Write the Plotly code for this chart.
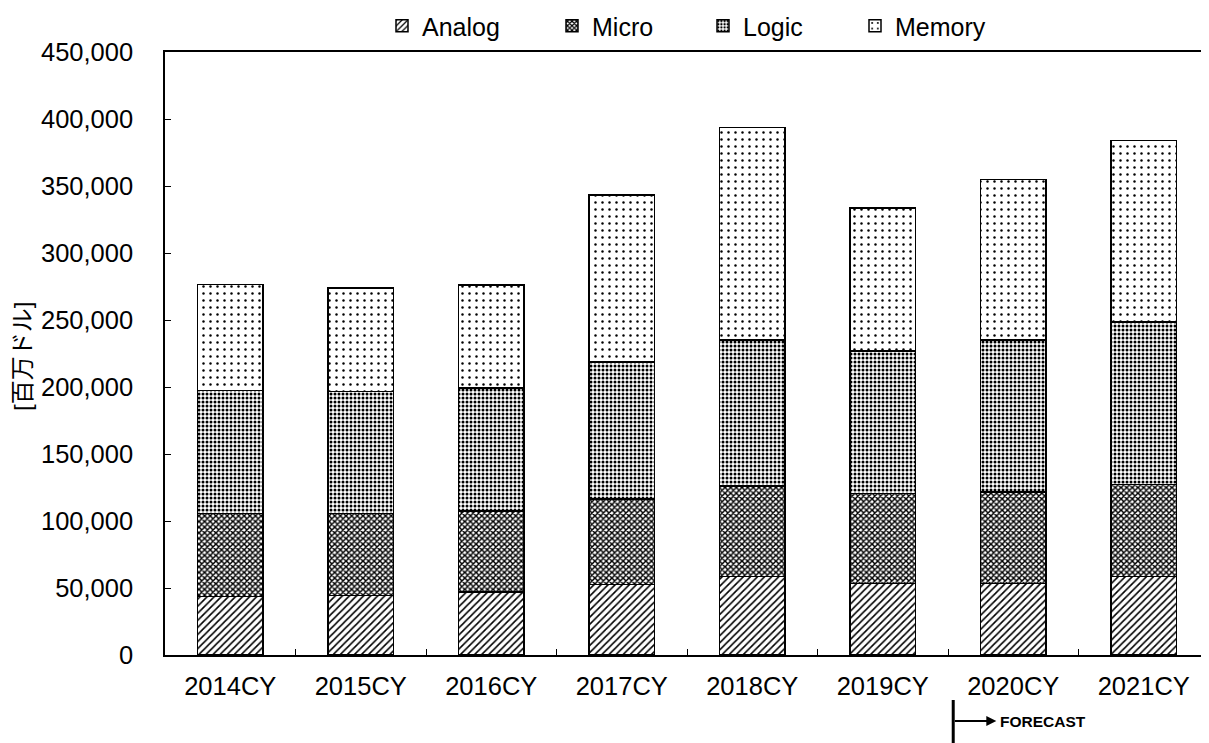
import plotly.graph_objects as go

categories = ["2014CY", "2015CY", "2016CY", "2017CY", "2018CY", "2019CY", "2020CY", "2021CY"]
analog = [43600, 44300, 47100, 52800, 58500, 53400, 53400, 58500]
micro = [62000, 61300, 60500, 63700, 67500, 67000, 68200, 68800]
logic = [91700, 91200, 91700, 102300, 109000, 106400, 113400, 121200]
memory = [79200, 77000, 76700, 124500, 158600, 106700, 119900, 135500]
series_names = ["Analog", "Micro", "Logic", "Memory"]

patterns = [
    dict(shape="/", size=5, solidity=0.32),
    dict(shape="x", size=4, solidity=0.6),
    dict(shape=".", size=4, solidity=0.45),
    dict(shape=".", size=7, solidity=0.1),
]

FONT = "Liberation Sans, Arial, Noto Sans CJK JP, sans-serif"
W, H = 1201, 735
legend_text_x = [422, 592, 743, 895]  # page px where legend text starts

fig = go.Figure()
for i, (name, vals) in enumerate(zip(series_names, [analog, micro, logic, memory])):
    fig.add_trace(go.Bar(
        name=name, x=categories, y=vals, width=0.5,
        legend="legend" if i == 0 else f"legend{i+1}",
        marker=dict(color="white",
                    line=dict(color="black", width=1.5),
                    pattern=dict(fgcolor="black", bgcolor="white",
                                 fillmode="replace", **patterns[i])),
    ))

legends = {}
for i, tx in enumerate(legend_text_x):
    key = "legend" if i == 0 else f"legend{i+1}"
    legends[key] = dict(xref="container", yref="container",
                        x=(tx - 8 - 40) / W, xanchor="left",
                        y=1 - (26 - 8) / H, yanchor="middle",
                        orientation="h", font=dict(size=25, color="black"),
                        bgcolor="rgba(0,0,0,0)", itemwidth=30)

fig.update_layout(
    barmode="stack",
    width=W, height=H,
    margin=dict(l=157, r=0, t=44, b=88, autoexpand=False),
    paper_bgcolor="white", plot_bgcolor="white",
    font=dict(family=FONT, size=25, color="black"),
    showlegend=True,
    xaxis=dict(showline=True, linecolor="black", linewidth=1.5, mirror=True,
               ticks="inside", tickson="boundaries", ticklen=6, tickcolor="black",
               tickfont=dict(size=25.5), ticklabelstandoff=8, showgrid=False,
               automargin=False),
    yaxis=dict(range=[0, 450000], dtick=50000, tickformat=",d",
               showline=True, linecolor="black", linewidth=1.5,
               ticks="inside", ticklen=6, tickcolor="black",
               tickfont=dict(size=25.5), ticklabelstandoff=25,
               showgrid=False, zeroline=False, automargin=False),
    **legends,
)

# y-axis title
fig.add_annotation(xref="paper", yref="paper", x=(14 - 157) / 1044, y=(647 - 349) / 603,
                   text="[百万ドル]", textangle=-90, showarrow=False,
                   xanchor="center", yanchor="middle",
                   font=dict(size=24, color="black", family=FONT))

# FORECAST marker
fig.add_shape(type="line", xref="x", yref="paper", x0=5.54, x1=5.54,
              y0=(647 - 692) / 603, y1=(647 - 740) / 603,
              line=dict(color="black", width=3))
fig.add_annotation(xref="x", yref="paper", x=5.87, y=(647 - 713) / 603, ax=-43, ay=0,
                   axref="pixel", ayref="pixel", text="", showarrow=True,
                   arrowhead=2, arrowsize=1, arrowwidth=2, arrowcolor="black")
fig.add_annotation(xref="x", yref="paper", x=5.883, y=(647 - 713) / 603,
                   xanchor="left", yanchor="middle",
                   text="<b>FORECAST</b>", showarrow=False,
                   font=dict(size=15.5, color="black", family=FONT))

fig.write_html("out.html")
